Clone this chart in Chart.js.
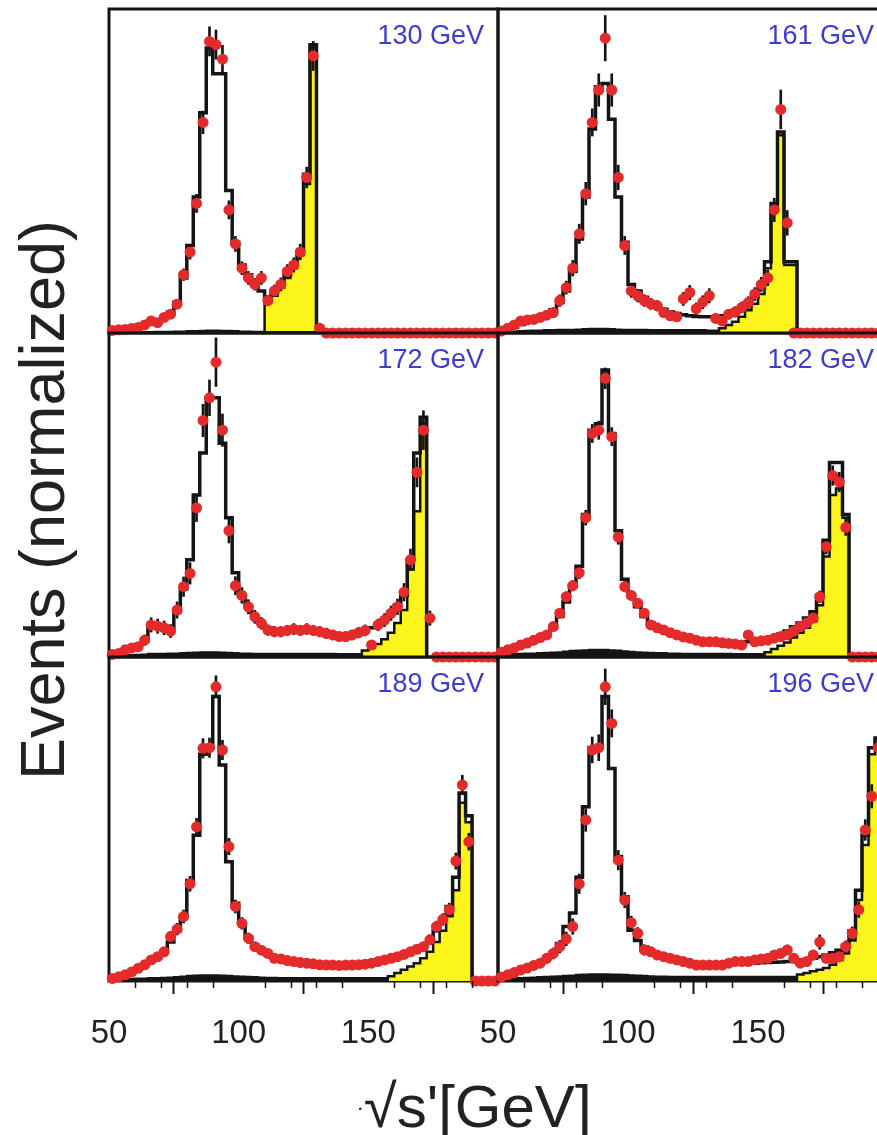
<!DOCTYPE html>
<html>
<head>
<meta charset="utf-8">
<title>sqrt(s') distributions</title>
<script src="https://cdn.jsdelivr.net/npm/chart.js@4.4.1/dist/chart.umd.min.js"></script>
<style>
  html, body { margin: 0; padding: 0; background: #fff; }
  #fig { position: relative; width: 877px; height: 1135px; overflow: hidden; background: #fff; }
  #fig canvas { position: absolute; }
  .axis-title { position: absolute; font-family: 'Liberation Sans', Arial, sans-serif; color: #222; white-space: nowrap; }
  #ytitle { left: 42px; top: 500px; font-size: 63px; line-height: 63px; transform: translate(-50%, -50%) rotate(-90deg); }
  #xtitle { left: 474px; top: 1077px; font-size: 60px; line-height: 60px; transform: translateX(-50%); }
  #xtitle .dot { font-size: 22px; vertical-align: 12px; }
</style>
</head>
<body>
<div id="fig">
  <div class="axis-title" id="ytitle">Events (normalized)</div>
  <div class="axis-title" id="xtitle"><span class="dot">·</span>√s'[GeV]</div>
</div>
<script>
// sqrt(s') spectra at six centre-of-mass energies, 2.5 GeV bins from 50 to 200 GeV.
// Heights are normalised so that each panel runs from 0 to 100.

const binEdges = [
  50, 52.5, 55, 57.5, 60, 62.5, 65, 67.5, 70, 72.5,
  75, 77.5, 80, 82.5, 85, 87.5, 90, 92.5, 95, 97.5,
  100, 102.5, 105, 107.5, 110, 112.5, 115, 117.5, 120, 122.5,
  125, 127.5, 130, 132.5, 135, 137.5, 140, 142.5, 145, 147.5,
  150, 152.5, 155, 157.5, 160, 162.5, 165, 167.5, 170, 172.5,
  175, 177.5, 180, 182.5, 185, 187.5, 190, 192.5, 195, 197.5,
  200
];

const energyLabels = ['130 GeV', '161 GeV', '172 GeV', '182 GeV', '189 GeV', '196 GeV'];
const xTicksMinor = [60, 70, 80, 90, 110, 120, 130, 140, 160, 170, 180, 190];

// ---- 130 GeV ----
const data130 = [
  0.8, 1.0, 1.1, 1.4, 1.7, 2.5, 3.7, 3.2, 4.8, 5.8,
  8.9, 18, 25, 40, 65, 90, 89, 84.5, 38, 27.5,
  20, 17, 15, 17, 10, 13, 15, 19, 21, 25,
  48, 85.5, 1.5, 0, 0, 0, 0, 0, 0, 0,
  0, 0, 0, 0, 0, 0, 0, 0, 0, 0,
  0, 0, 0, 0, 0, 0, 0, 0, 0, 0
];
const mc130 = [
  0.8, 1.0, 1.2, 1.4, 1.8, 2.4, 3.0, 3.8, 4.8, 6.5,
  9.5, 17, 27, 42, 68, 88, 80, 80, 44, 28,
  21, 18, 15, 13, 11, 12.5, 15, 18, 21, 25,
  49, 89, 0, 0, 0, 0, 0, 0, 0, 0,
  0, 0, 0, 0, 0, 0, 0, 0, 0, 0,
  0, 0, 0, 0, 0, 0, 0, 0, 0, 0
];
const sig130 = [
  0, 0, 0, 0, 0, 0, 0, 0, 0, 0,
  0, 0, 0, 0, 0, 0, 0, 0, 0, 0,
  0, 0, 0, 0, 9.5, 11.5, 14, 17, 20, 24,
  46, 88, 0, 0, 0, 0, 0, 0, 0, 0,
  0, 0, 0, 0, 0, 0, 0, 0, 0, 0,
  0, 0, 0, 0, 0, 0, 0, 0, 0, 0
];
const bkg130 = [
  0.2, 0.2, 0.3, 0.3, 0.3, 0.3, 0.3, 0.4, 0.4, 0.4,
  0.5, 0.5, 0.6, 0.6, 0.7, 0.8, 0.8, 0.7, 0.7, 0.6,
  0.5, 0.5, 0.4, 0.4, 0.3, 0.3, 0.3, 0.3, 0.3, 0.3,
  0.3, 0.3, 0, 0, 0, 0, 0, 0, 0, 0,
  0, 0, 0, 0, 0, 0, 0, 0, 0, 0,
  0, 0, 0, 0, 0, 0, 0, 0, 0, 0
];
const err130 = [
  0.6, 0.6, 0.6, 0.6, 0.6, 0.6, 0.6, 0.6, 0.6, 0.6,
  1.2, 1.8, 2.2, 2.8, 3.5, 4.5, 4.5, 4.3, 2.8, 2.3,
  2, 2, 1.8, 2, 1.6, 1.8, 2, 2.1, 2.2, 2.4,
  3.2, 4.5, 0.8, 0, 0, 0, 0, 0, 0, 0,
  0, 0, 0, 0, 0, 0, 0, 0, 0, 0,
  0, 0, 0, 0, 0, 0, 0, 0, 0, 0
];

// ---- 161 GeV ----
const data161 = [
  0.6, 1.5, 2.5, 3.7, 4.0, 4.2, 4.8, 5.5, 6.3, 10,
  14, 20, 30.6, 43, 65, 75, 91, 75, 48, 27,
  13, 11.5, 10, 9, 8.4, 6.3, 5.3, 5, 10.5, 12.5,
  7.5, 9.5, 11.5, 4.5, 3.7, 5.8, 6.5, 7.9, 9.4, 12,
  15, 17, 38, 69, 34, 0, 0, 0, 0, 0,
  0, 0, 0, 0, 0, 0, 0, 0, 0, 0
];
const mc161 = [
  0.7, 1.2, 1.8, 2.6, 3.3, 4, 4.8, 5.8, 7.2, 9.5,
  13, 19, 29, 42, 63, 76, 77, 66, 42, 28,
  15, 13, 11, 9.5, 8.3, 7.3, 6.5, 6, 5.6, 5.3,
  5.1, 5, 5, 5, 5.3, 5.8, 6.5, 7.5, 9, 11,
  14, 22, 40, 62, 22, 22, 0, 0, 0, 0,
  0, 0, 0, 0, 0, 0, 0, 0, 0, 0
];
const sig161 = [
  0, 0, 0, 0, 0, 0, 0, 0, 0, 0,
  0, 0, 0, 0, 0, 0, 0, 0, 0, 0,
  0, 0, 0, 0, 0, 0, 0, 0, 0, 0,
  0, 0, 0, 0, 1.5, 2.5, 3.5, 5, 7, 9,
  12, 20, 38, 61, 21, 21, 0, 0, 0, 0,
  0, 0, 0, 0, 0, 0, 0, 0, 0, 0
];
const bkg161 = [
  0.3, 0.4, 0.5, 0.6, 0.7, 0.8, 0.8, 0.9, 0.9, 1.0,
  1.0, 1.0, 1.1, 1.2, 1.3, 1.3, 1.3, 1.2, 1.1, 1.0,
  1.0, 1.0, 1.0, 0.9, 0.9, 0.9, 0.9, 0.9, 0.9, 0.9,
  0.9, 0.9, 0.8, 0.8, 0, 0, 0, 0, 0, 0,
  0, 0, 0, 0, 0, 0, 0, 0, 0, 0,
  0, 0, 0, 0, 0, 0, 0, 0, 0, 0
];
const err161 = [
  0.8, 0.9, 1, 1.1, 1.2, 1.2, 1.3, 1.4, 1.5, 1.8,
  2, 2.4, 3, 3.5, 4.2, 5, 7, 5, 3.8, 2.8,
  2, 1.9, 1.8, 1.7, 1.6, 1.5, 1.4, 1.4, 2, 2.2,
  1.8, 2, 2.2, 1.4, 1.3, 1.5, 1.6, 1.7, 1.8, 2,
  2.2, 2.4, 3.6, 6, 3.8, 0, 0, 0, 0, 0,
  0, 0, 0, 0, 0, 0, 0, 0, 0, 0
];

// ---- 172 GeV ----
const data172 = [
  0.8, 1.1, 2.2, 2.8, 3.2, 5.2, 9.9, 9.5, 9, 8,
  14.5, 21.7, 25.8, 46, 73, 80, 91, 70, 39, 22,
  19, 15.5, 12.4, 10.4, 8.3, 7.8, 7.8, 8.2, 8.6, 8.2,
  8.6, 8.2, 7.8, 7.3, 6.8, 6.3, 6.3, 6.8, 7.5, 8.2,
  3.7, 9.9, 11.4, 13.5, 15.5, 20, 30, 57, 70, 12,
  0, 0, 0, 0, 0, 0, 0, 0, 0, 0
];
const mc172 = [
  0.8, 1.2, 2, 2.7, 3.5, 5, 9.5, 9.5, 9.5, 9,
  14, 21, 30, 50, 63, 80, 80, 66, 43, 26,
  19, 15.5, 12.5, 10.5, 9, 8.3, 8, 8, 8, 8,
  8, 8, 7.6, 7.2, 6.9, 6.7, 6.7, 7, 7.6, 8.3,
  9, 10, 11.5, 13.5, 16, 19, 30, 63, 74, 0,
  0, 0, 0, 0, 0, 0, 0, 0, 0, 0
];
const sig172 = [
  0, 0, 0, 0, 0, 0, 0, 0, 0, 0,
  0, 0, 0, 0, 0, 0, 0, 0, 0, 0,
  0, 0, 0, 0, 0, 0, 0, 0, 0, 0,
  0, 0, 0, 0, 0, 0, 0, 0, 0, 2,
  3, 4, 5.5, 7.5, 10.5, 14.5, 27, 45, 72, 0,
  0, 0, 0, 0, 0, 0, 0, 0, 0, 0
];
const bkg172 = [
  0.3, 0.4, 0.5, 0.6, 0.7, 0.8, 1.0, 1.0, 1.0, 1.1,
  1.1, 1.2, 1.3, 1.4, 1.5, 1.5, 1.5, 1.4, 1.3, 1.2,
  1.1, 1.1, 1.0, 1.0, 1.0, 1.0, 1.0, 1.0, 1.0, 1.0,
  1.0, 1.0, 1.0, 1.0, 1.0, 0.9, 0.9, 0.9, 0.9, 0,
  0, 0, 0, 0, 0, 0, 0, 0, 0, 0,
  0, 0, 0, 0, 0, 0, 0, 0, 0, 0
];
const err172 = [
  0.8, 0.9, 1.1, 1.2, 1.3, 1.6, 2.2, 2.2, 2.1, 2,
  2.5, 3, 3.3, 4.2, 5, 5.5, 7.5, 5, 3.8, 2.8,
  2.4, 2.2, 2, 1.8, 1.6, 1.6, 1.6, 1.6, 1.7, 1.6,
  1.7, 1.6, 1.6, 1.6, 1.5, 1.5, 1.5, 1.5, 1.6, 1.7,
  1.2, 1.8, 2, 2.2, 2.4, 2.7, 3.3, 4.5, 6, 2.2,
  0, 0, 0, 0, 0, 0, 0, 0, 0, 0
];

// ---- 182 GeV ----
const data182 = [
  1.5, 2.2, 2.8, 3.7, 4.3, 5.2, 6, 6.8, 9.4, 13.5,
  18.6, 22, 26, 43, 69, 70, 86, 68, 37, 21.7,
  19, 16.6, 13.5, 9.9, 9, 8.3, 7.5, 6.8, 6.2, 5.8,
  5.2, 4.7, 4.7, 4.7, 4.4, 4.2, 4, 3.7, 6.8, 4.7,
  5, 5.2, 5.8, 6.3, 6.8, 8, 9.4, 10.5, 12, 18.6,
  34, 56, 54, 40, 0, 0, 0, 0, 0, 0
];
const mc182 = [
  1.5, 2, 2.6, 3.3, 4, 4.8, 5.8, 7, 9, 12.5,
  17, 22, 28, 44, 70, 72, 88.6, 69, 39, 24,
  19, 15.5, 12.5, 10.5, 9, 8, 7.2, 6.5, 6, 5.6,
  5.2, 5, 4.8, 4.6, 4.5, 4.4, 4.4, 4.5, 4.7, 4.9,
  5.2, 5.6, 6.2, 7, 8, 9.3, 10.5, 12, 14, 19,
  36, 60, 60, 44, 0, 0, 0, 0, 0, 0
];
const sig182 = [
  0, 0, 0, 0, 0, 0, 0, 0, 0, 0,
  0, 0, 0, 0, 0, 0, 0, 0, 0, 0,
  0, 0, 0, 0, 0, 0, 0, 0, 0, 0,
  0, 0, 0, 0, 0, 0, 0, 0, 0, 0,
  0, 1.5, 2.5, 3.5, 4.5, 6, 7.5, 9, 11, 16,
  31, 50, 52, 43, 0, 0, 0, 0, 0, 0
];
const bkg182 = [
  0.8, 0.9, 1.0, 1.0, 1.1, 1.1, 1.2, 1.3, 1.4, 1.5,
  1.7, 1.9, 2.0, 2.1, 2.2, 2.2, 2.2, 2.1, 2.0, 1.8,
  1.6, 1.5, 1.4, 1.3, 1.2, 1.2, 1.1, 1.1, 1.0, 1.0,
  1.0, 1.0, 1.0, 1.0, 1.0, 1.0, 0.9, 0.9, 0.9, 0.9,
  0.9, 0, 0, 0, 0, 0, 0, 0, 0, 0,
  0, 0, 0, 0, 0, 0, 0, 0, 0, 0
];
const err182 = [
  1, 1, 1, 1, 1, 1, 1, 1, 1, 1,
  1.5, 1.6, 1.8, 2.3, 2.8, 2.8, 3.2, 2.8, 2.2, 1.6,
  1.5, 1.4, 1.3, 1.2, 1.1, 1.1, 1, 1, 1, 1,
  1, 1, 1, 1, 1, 1, 1, 1, 1.2, 1,
  1, 1, 1, 1.1, 1.1, 1.2, 1.3, 1.4, 1.5, 1.8,
  2.2, 3, 3, 2.5, 0, 0, 0, 0, 0, 0
];

// ---- 189 GeV ----
const data189 = [
  0.8, 1.3, 1.9, 2.8, 3.9, 5, 6.5, 7.5, 9, 13.7,
  16, 19.9, 30, 47.6, 71.8, 72, 90.8, 71.3, 41.5, 23,
  17.8, 13.2, 10.6, 9.5, 8.5, 7, 6.8, 6.3, 6, 5.7,
  5.5, 5.3, 5, 4.9, 4.9, 4.8, 4.9, 4.9, 5, 5.2,
  5.5, 6, 6.5, 7, 7.5, 8.2, 9, 9.8, 10.6, 12.7,
  16.8, 19, 22, 37, 60.5, 43, 0, 0, 0, 0
];
const mc189 = [
  0.8, 1.3, 1.9, 2.7, 3.7, 4.8, 6, 7.5, 9.2, 12,
  15.5, 20, 31, 45, 70, 72, 87.8, 66.7, 36.8, 24,
  18, 13.5, 11, 9.5, 8.3, 7.4, 6.7, 6.2, 5.8, 5.5,
  5.2, 5, 4.9, 4.8, 4.8, 4.8, 4.8, 4.9, 5, 5.2,
  5.5, 5.9, 6.4, 7, 7.6, 8.3, 9, 9.8, 10.8, 12.5,
  15.5, 19, 23, 32, 58, 51, 0, 0, 0, 0
];
const sig189 = [
  0, 0, 0, 0, 0, 0, 0, 0, 0, 0,
  0, 0, 0, 0, 0, 0, 0, 0, 0, 0,
  0, 0, 0, 0, 0, 0, 0, 0, 0, 0,
  0, 0, 0, 0, 0, 0, 0, 0, 0, 0,
  0, 0, 0, 1.5, 2.5, 3.5, 4.5, 5.5, 7, 9,
  12, 15.5, 20, 28, 55, 49, 0, 0, 0, 0
];
const bkg189 = [
  0, 0, 0.6, 0.7, 0.8, 0.8, 0.9, 0.9, 1.0, 1.1,
  1.2, 1.4, 1.6, 1.7, 1.8, 1.8, 1.8, 1.7, 1.6, 1.5,
  1.4, 1.3, 1.2, 1.1, 1.0, 1.0, 0.9, 0.9, 0.9, 0.9,
  0.9, 0.9, 0.9, 0.9, 0.9, 0.9, 0.9, 0.9, 0.9, 0.9,
  0.9, 0.9, 0.9, 0, 0, 0, 0, 0, 0, 0,
  0, 0, 0, 0, 0, 0, 0, 0, 0, 0
];
const err189 = [
  0.6, 0.7, 0.8, 0.9, 1, 1.1, 1.2, 1.3, 1.4, 1.6,
  1.8, 2, 2.3, 2.6, 3, 3, 3.4, 3, 2.5, 2,
  1.8, 1.6, 1.4, 1.3, 1.2, 1.1, 1.1, 1, 1, 1,
  1, 1, 1, 1, 1, 1, 1, 1, 1, 1,
  1, 1, 1.1, 1.1, 1.2, 1.2, 1.3, 1.3, 1.4, 1.5,
  1.7, 1.8, 2, 2.5, 3, 2.6, 0, 0, 0, 0
];

// ---- 196 GeV ----
const data196 = [
  1.2, 1.9, 2.6, 3.4, 4, 4.8, 5.5, 7, 8.5, 10.6,
  13, 16.8, 30, 49.7, 71.3, 72, 90.8, 79.5, 37.3, 25,
  18, 14.7, 9.6, 9, 8, 7.5, 7, 6.5, 6, 5.5,
  4.9, 4.9, 4.9, 4.9, 4.9, 5.5, 6, 6, 6, 6.5,
  6.8, 7, 8, 8.5, 9.6, 7, 5.5, 6, 8, 12,
  7, 7, 7.5, 10.6, 14.7, 22, 46.6, 57, 72, 58
];
const mc196 = [
  1, 1.6, 2.3, 3, 3.7, 4.5, 5.5, 7, 8.8, 11.6,
  16.8, 21, 32, 53.8, 72, 72.3, 87.8, 65.6, 38.4, 26,
  15.7, 12.5, 10.5, 9.2, 8.2, 7.4, 6.8, 6.3, 6, 5.7,
  5.5, 5.4, 5.3, 5.3, 5.3, 5.4, 5.5, 5.5, 5.5, 5.5,
  5.6, 5.7, 5.8, 5.9, 6, 6.1, 6.3, 6.6, 7, 7.5,
  8, 8.7, 9.5, 11, 15.5, 28, 45, 72, 75, 60
];
const sig196 = [
  0, 0, 0, 0, 0, 0, 0, 0, 0, 0,
  0, 0, 0, 0, 0, 0, 0, 0, 0, 0,
  0, 0, 0, 0, 0, 0, 0, 0, 0, 0,
  0, 0, 0, 0, 0, 0, 0, 0, 0, 0,
  0, 0, 0, 0, 0, 0, 2, 2.5, 3, 3.5,
  4, 5, 6.5, 8.5, 12.5, 25, 42, 70, 73, 58
];
const bkg196 = [
  0, 0, 0.8, 0.9, 1.0, 1.1, 1.2, 1.3, 1.4, 1.5,
  1.6, 1.7, 1.9, 2.0, 2.1, 2.1, 2.1, 2.0, 2.0, 1.9,
  1.8, 1.7, 1.6, 1.5, 1.4, 1.4, 1.3, 1.3, 1.3, 1.3,
  1.3, 1.3, 1.3, 1.3, 1.3, 1.3, 1.3, 1.3, 1.3, 1.3,
  1.3, 1.3, 1.3, 1.3, 1.3, 1.3, 0, 0, 0, 0,
  0, 0, 0, 0, 0, 0, 0, 0, 0, 0
];
const err196 = [
  0.8, 0.9, 1, 1.1, 1.2, 1.3, 1.4, 1.5, 1.7, 1.9,
  2.1, 2.4, 3, 3.5, 4, 4, 5.5, 4.2, 3, 2.4,
  2, 1.8, 1.6, 1.5, 1.4, 1.4, 1.3, 1.3, 1.3, 1.2,
  1.2, 1.2, 1.2, 1.2, 1.2, 1.2, 1.2, 1.2, 1.2, 1.2,
  1.3, 1.3, 1.4, 1.4, 1.5, 1.4, 1.3, 1.3, 1.5, 2.2,
  1.5, 1.5, 1.6, 1.8, 2, 2.4, 3.2, 3.6, 4, 3.6
];

const panels = [
  { data: data130, mc: mc130, sig: sig130, bkg: bkg130, err: err130 },
  { data: data161, mc: mc161, sig: sig161, bkg: bkg161, err: err161 },
  { data: data172, mc: mc172, sig: sig172, bkg: bkg172, err: err172 },
  { data: data182, mc: mc182, sig: sig182, bkg: bkg182, err: err182 },
  { data: data189, mc: mc189, sig: sig189, bkg: bkg189, err: err189 },
  { data: data196, mc: mc196, sig: sig196, bkg: bkg196, err: err196 }
];

// layout of the 3x2 grid (page pixels); side padding leaves room for the edge tick labels
const PAD = 30;
const SIDE = 60;
const colLeft = [109, 498];
const colWidth = [389, 390];
const rowTop = [9, 333, 657];
const rowHeight = 324;
const AXIS_H = 93;

const FONT = "'Liberation Sans', Arial, Helvetica, sans-serif";
const INK = '#141414';
const RED = '#e42a2a';
const YELLOW = '#fcf51c';
const BLUE = '#3c3ccf';

// Histogram outline as step points: drop to zero at both ends of the filled range
function stepPoints(values) {
  const first = values.findIndex(v => v > 0);
  let last = values.length - 1;
  while (last > first && !(values[last] > 0)) last--;
  const pts = [{ x: binEdges[first], y: 0 }];
  for (let i = first; i <= last; i++) pts.push({ x: binEdges[i], y: values[i] });
  pts.push({ x: binEdges[last + 1], y: 0 });
  return pts;
}

function binCenter(i) {
  return (binEdges[i] + binEdges[i + 1]) / 2;
}

// frame around every panel
const panelFrame = {
  id: 'panelFrame',
  beforeDatasetsDraw(chart) {
    const { ctx, chartArea: a } = chart;
    ctx.save();
    ctx.strokeStyle = INK;
    ctx.lineWidth = 3;
    ctx.strokeRect(a.left, a.top, a.right - a.left, a.bottom - a.top);
    ctx.restore();
  }
};

// energy label in the upper right corner
const energyLabel = {
  id: 'energyLabel',
  afterDatasetsDraw(chart, args, opts) {
    const { ctx, chartArea: a } = chart;
    ctx.save();
    ctx.font = '27px ' + FONT;
    ctx.fillStyle = BLUE;
    ctx.textAlign = 'right';
    ctx.textBaseline = 'middle';
    ctx.fillText(opts.text, a.right - 14, a.top + 28);
    ctx.restore();
  }
};

// short ticks every 10 GeV on the bottom axes
const minorTicks = {
  id: 'minorTicks',
  afterDraw(chart, args, opts) {
    if (!opts.show) return;
    const { ctx, chartArea: a, scales } = chart;
    ctx.save();
    ctx.strokeStyle = INK;
    ctx.lineWidth = 1.5;
    xTicksMinor.forEach(v => {
      const x = Math.round(scales.x.getPixelForValue(v)) + 0.5;
      ctx.beginPath();
      ctx.moveTo(x, a.bottom);
      ctx.lineTo(x, a.bottom + 7);
      ctx.stroke();
    });
    ctx.restore();
  }
};

const fig = document.getElementById('fig');

panels.forEach((p, idx) => {
  const col = idx % 2;
  const row = Math.floor(idx / 2);
  const bottomRow = row === 2;

  const canvas = document.createElement('canvas');
  const w = colWidth[col] + 2 * SIDE;
  const h = PAD + rowHeight + (bottomRow ? AXIS_H : PAD);
  canvas.width = w;
  canvas.height = h;
  canvas.style.left = (colLeft[col] - SIDE) + 'px';
  canvas.style.top = (rowTop[row] - PAD) + 'px';
  canvas.style.width = w + 'px';
  canvas.style.height = h + 'px';
  fig.appendChild(canvas);

  const points = p.data.map((v, i) => ({ x: binCenter(i), y: v }));
  const bars = [];
  p.err.forEach((e, i) => {
    if (e > 0) bars.push({ x: binCenter(i), y: [p.data[i] - e, p.data[i] + e] });
  });

  new Chart(canvas, {
    type: 'scatter',
    data: {
      datasets: [
        {
          label: 'Data',
          type: 'scatter',
          data: points,
          pointRadius: 5.5,
          pointBackgroundColor: RED,
          pointBorderWidth: 0,
          showLine: false,
          clip: false
        },
        {
          label: 'Errors',
          type: 'bar',
          data: bars,
          backgroundColor: INK,
          borderWidth: 0,
          barThickness: 2,
          grouped: false,
          clip: false
        },
        {
          label: 'Background',
          type: 'line',
          data: stepPoints(p.bkg),
          stepped: true,
          borderColor: INK,
          borderWidth: 2,
          backgroundColor: INK,
          pointRadius: 0,
          fill: 'origin'
        },
        {
          label: 'Total MC',
          type: 'line',
          data: stepPoints(p.mc),
          stepped: true,
          borderColor: INK,
          borderWidth: 3.5,
          pointRadius: 0,
          fill: false
        },
        {
          label: 'Non-radiative',
          type: 'line',
          data: stepPoints(p.sig),
          stepped: true,
          borderColor: INK,
          borderWidth: 2.5,
          backgroundColor: YELLOW,
          pointRadius: 0,
          fill: 'origin'
        }
      ]
    },
    options: {
      responsive: false,
      maintainAspectRatio: false,
      animation: false,
      events: [],
      layout: {
        padding: { left: SIDE, right: SIDE, top: PAD, bottom: bottomRow ? 0 : PAD }
      },
      plugins: {
        legend: { display: false },
        tooltip: { enabled: false },
        energyLabel: { text: energyLabels[idx] },
        minorTicks: { show: bottomRow }
      },
      scales: {
        x: {
          type: 'linear',
          min: 50,
          max: 200,
          offset: false,
          display: bottomRow,
          border: { display: false },
          grid: {
            drawOnChartArea: false,
            drawTicks: true,
            tickLength: 13,
            tickWidth: 2,
            tickColor: INK
          },
          ticks: {
            stepSize: 50,
            autoSkip: false,
            maxRotation: 0,
            padding: 20,
            color: '#222',
            font: { family: FONT, size: 33, lineHeight: '40px' },
            callback: v => (v === 200 ? '' : String(v))
          }
        },
        y: {
          type: 'linear',
          min: 0,
          max: 100,
          display: false
        }
      }
    },
    plugins: [panelFrame, energyLabel, minorTicks]
  });
});
</script>
</body>
</html>
